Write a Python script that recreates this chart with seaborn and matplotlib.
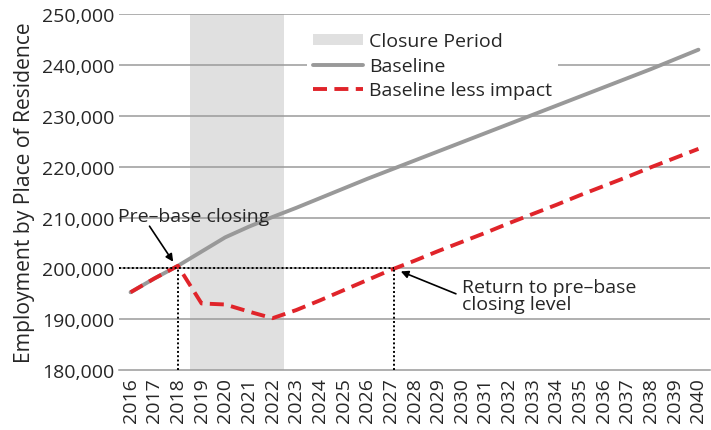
import numpy as np
import pandas as pd
import matplotlib
matplotlib.use("Agg")
import matplotlib.pyplot as plt
import seaborn as sns
from matplotlib.patches import Patch
from matplotlib.lines import Line2D

# --- Config ---
sns.set_style("white")
plt.rcParams.update({
    "font.family": ["Open Sans", "DejaVu Sans"],
    "font.size": 14,
})

C_BASE = "#999999"
C_IMPACT = "#E0242A"
C_SHADE = "#E0E0E0"
C_GRID = "#9A9A9A"

# --- Data ---
years = list(range(2016, 2041))
baseline = [195300, 198000, 200500, 203300, 206100, 208200, 210100,
            211900, 213800, 215700, 217600, 219400, 221200, 223000,
            224800, 226600, 228400, 230200, 232000, 233800, 235600,
            237400, 239200, 241100, 243000]
less_impact = [195300, 198000, 200500, 193100, 192900, 191500, 190200,
               191800, 193700, 195700, 197700, 199700, 201500, 203400,
               205200, 207000, 208900, 210700, 212500, 214400, 216200,
               218000, 219900, 221700, 223500]
closure_start, closure_end = 2018.5, 2022.5
pre_base_year, pre_base_level = 2018, 200000
return_year = 2027.15

df = pd.DataFrame({"Year": years, "Baseline": baseline,
                   "Baseline less impact": less_impact})

# --- Plotting ---
fig = plt.figure(figsize=(7.11, 4.31), dpi=100)
ax = fig.add_axes([0.167, 0.139, 0.832, 0.826])

ax.axvspan(closure_start, closure_end, color=C_SHADE, zorder=0, lw=0)
for yv in range(190000, 250001, 10000):
    ax.axhline(yv, color=C_GRID, lw=1.1, zorder=0.5)

sns.lineplot(data=df, x="Year", y="Baseline", ax=ax, color=C_BASE,
             lw=2.8, zorder=3)
sns.lineplot(data=df, x="Year", y="Baseline less impact", ax=ax,
             color=C_IMPACT, lw=2.8, zorder=4, dashes=False)
ax.lines[-1].set_dashes([3.6, 1.9])

# reference dotted lines
dot = dict(color="black", ls=(0, (1, 1.2)), lw=1.4, zorder=5)
ax.plot([2015.5, return_year], [pre_base_level, pre_base_level], **dot)
ax.plot([pre_base_year, pre_base_year], [180000, pre_base_level], **dot)
ax.plot([return_year, return_year], [180000, pre_base_level], **dot)

arrow = dict(arrowstyle="-|>", color="black", lw=1.2, shrinkA=0,
             shrinkB=0, mutation_scale=11)
ax.text(2015.48, 209350, "Pre\u2013base closing", ha="left",
        va="baseline", zorder=6)
ax.annotate("", xy=(2017.8, 201300), xytext=(2016.8, 208300),
            arrowprops=arrow, zorder=6)
ax.text(2030.0, 194700, "Return to pre\u2013base\nclosing level",
        ha="left", va="center", linespacing=0.9, zorder=6)
ax.annotate("", xy=(2027.42, 199400), xytext=(2029.75, 195000),
            arrowprops=arrow, zorder=6)

ax.set_xlim(2015.5, 2040.5)
ax.set_ylim(180000, 250000)
ax.set_yticks(range(180000, 250001, 10000))
ax.set_yticklabels([f"{v:,}" for v in range(180000, 250001, 10000)])
ax.set_xticks(years)
ax.set_xticklabels([str(y) for y in years], rotation=90)
ax.set_xticks(np.arange(2015.5, 2041, 1.0), minor=True)
ax.tick_params(axis="x", which="major", length=0, pad=5)
ax.tick_params(axis="x", which="minor", length=7, direction="inout",
               color=C_GRID, width=1.1)
ax.tick_params(axis="y", length=0, pad=3)
ax.set_xlabel("")
ax.set_ylabel("Employment by Place of Residence", fontsize=15.2, labelpad=5)

for side in ["top", "right", "left"]:
    ax.spines[side].set_visible(False)
ax.spines["bottom"].set_color(C_GRID)
ax.spines["bottom"].set_linewidth(1.1)

handles = [Patch(facecolor=C_SHADE, edgecolor="none"),
           Line2D([], [], color=C_BASE, lw=2.8),
           Line2D([], [], color=C_IMPACT, lw=2.8, dashes=[3.6, 1.9])]
labels = ["Closure Period", "Baseline", "Baseline less impact"]
leg = ax.legend(handles, labels, loc="upper left",
                bbox_to_anchor=(0.318, 0.965), frameon=True,
                facecolor="white", edgecolor="none", framealpha=1,
                fancybox=False, handlelength=2.6, handleheight=0.45,
                handletextpad=0.3, labelspacing=0.33, borderpad=0.3,
                borderaxespad=0)
# legend box sits over the gridlines but under the data lines
leg.set_zorder(2)

plt.savefig("out.png", dpi=100)
